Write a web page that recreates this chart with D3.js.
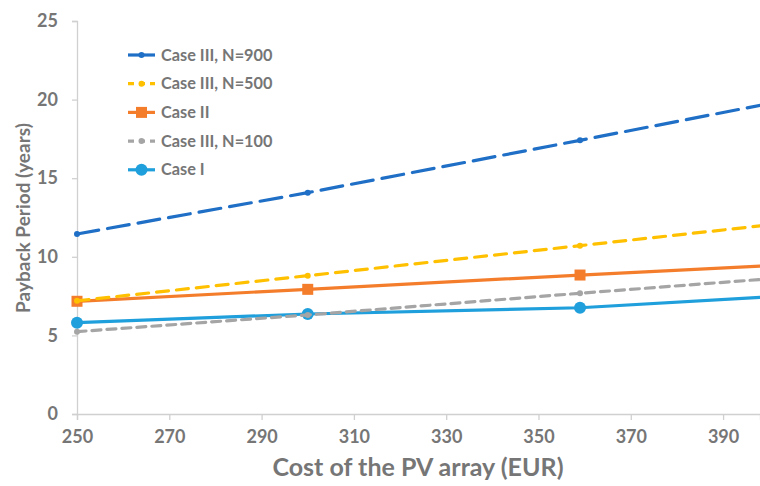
<!DOCTYPE html>
<html><head><meta charset="utf-8">
<script src="https://cdn.jsdelivr.net/npm/d3@7"></script>
<style>body{margin:0;background:#fff}svg{display:block}</style>
</head><body>
<svg id="c" width="760" height="486"></svg>
<script>
const costs = [250, 300, 359, 400];
const caseIII900 = [11.45, 14.08, 17.41, 19.75];
const caseIII500 = [7.2, 8.80, 10.71, 12.03];
const caseII = [7.17, 7.93, 8.84, 9.43];
const caseIII100 = [5.24, 6.3, 7.68, 8.6];
const caseI = [5.81, 6.36, 6.76, 7.45];
const xTicks = [250, 270, 290, 310, 330, 350, 370, 390];
const yTicks = [0, 5, 10, 15, 20, 25];
const seriesNames = ["Case III, N=900", "Case III, N=500", "Case II", "Case III, N=100", "Case I"];

const styles = {
  "Case III, N=900": {color:"#1F6FC6", dash:"22,9", marker:"dot", r:3},
  "Case III, N=500": {color:"#FFC000", dash:"12,8", marker:"dot", r:3},
  "Case II": {color:"#F47D2C", dash:null, marker:"square", r:5.5},
  "Case III, N=100": {color:"#A5A5A5", dash:"9,6", marker:"dot", r:3},
  "Case I": {color:"#1F9FDB", dash:null, marker:"circle", r:6}
};
const valuesByName = {
  "Case III, N=900": caseIII900, "Case III, N=500": caseIII500,
  "Case II": caseII, "Case III, N=100": caseIII100, "Case I": caseI
};

const svg = d3.select("#c");
const x = d3.scaleLinear().domain([250, 398]).range([77, 760]);
const y = d3.scaleLinear().domain([0, 25]).range([414, 21]);
const font = "Lato, 'Open Sans', sans-serif";
const grey = "#767676";

svg.append("defs").append("clipPath").attr("id","clip")
  .append("rect").attr("x",70).attr("y",0).attr("width",690).attr("height",420);

// axes
const yAxis = svg.append("g").attr("transform","translate(77,0)")
  .call(d3.axisLeft(y).tickValues(yTicks).tickSize(5).tickPadding(14));
const xAxis = svg.append("g").attr("transform","translate(0,414)")
  .call(d3.axisBottom(x).tickValues(xTicks).tickSize(6).tickPadding(10));
[yAxis, xAxis].forEach(a=>{
  a.select(".domain").attr("stroke","#D0D0D0").attr("stroke-width",1.3);
  a.selectAll(".tick line").attr("stroke","#D0D0D0").attr("stroke-width",1.3);
  a.selectAll("text").attr("fill",grey).attr("font-family",font)
    .attr("font-weight","bold").attr("font-size",18);
});

// axis titles
svg.append("text").attr("transform","translate(30,218) rotate(-90)")
  .attr("text-anchor","middle").attr("fill",grey).attr("font-family",font)
  .attr("font-weight","bold").attr("font-size",19).text("Payback Period (years)");
svg.append("text").attr("x",418).attr("y",476)
  .attr("text-anchor","middle").attr("fill",grey).attr("font-family",font)
  .attr("font-weight","bold").attr("font-size",25).text("Cost of the PV array (EUR)");

const line = d3.line().x((d,i)=>x(costs[i])).y(d=>y(d));
const plot = svg.append("g").attr("clip-path","url(#clip)");

function drawMarker(g, s, cx, cy){
  if (s.marker === "square") {
    g.append("rect").attr("x",cx-s.r).attr("y",cy-s.r).attr("width",2*s.r).attr("height",2*s.r).attr("fill",s.color);
  } else {
    g.append("circle").attr("cx",cx).attr("cy",cy).attr("r",s.r).attr("fill",s.color);
  }
}

[...seriesNames].reverse().forEach(name=>{
  const s = styles[name], vals = valuesByName[name];
  plot.append("path").datum(vals).attr("d",line).attr("fill","none")
    .attr("stroke",s.color).attr("stroke-width",3.2)
    .attr("stroke-dasharray",s.dash).attr("stroke-linecap", s.dash ? "round" : "butt");
  vals.forEach((v,i)=>drawMarker(plot, s, x(costs[i]), y(v)));
});

// legend
const leg = svg.append("g");
seriesNames.forEach((name,i)=>{
  const s = styles[name];
  const ly = 55 + i*28.7;
  leg.append("line").attr("x1",128).attr("x2",155).attr("y1",ly).attr("y2",ly)
    .attr("stroke",s.color).attr("stroke-width",3.2)
    .attr("stroke-dasharray", s.dash ? (name==="Case III, N=900" ? null : "6,5") : null);
  drawMarker(leg, s, 141.5, ly);
  leg.append("text").attr("x",161).attr("y",ly+5.5).attr("fill",grey)
    .attr("font-family",font).attr("font-weight","bold").attr("font-size",16.3).text(name);
});
</script>
</body></html>
